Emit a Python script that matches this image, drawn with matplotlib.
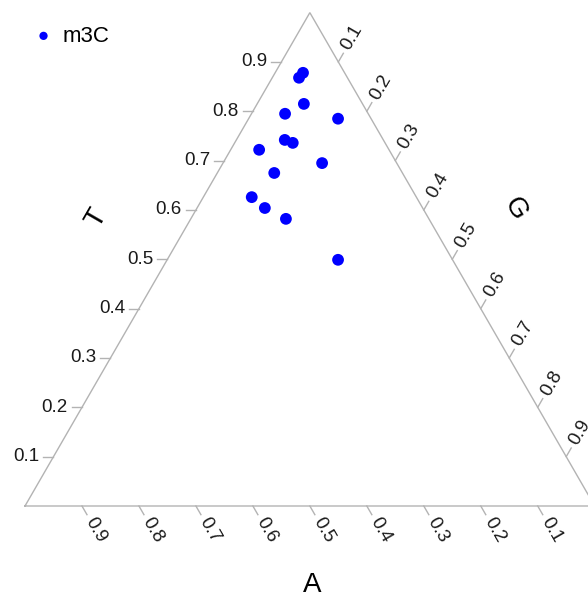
import numpy as np
import matplotlib
matplotlib.use("Agg")
import matplotlib.pyplot as plt

plt.rcParams['font.family'] = ['Liberation Sans', 'DejaVu Sans']

# m3C composition (fractions of A, G, T)
a_frac = [0.073, 0.085, 0.103, 0.058, 0.146, 0.228, 0.173, 0.162, 0.131, 0.225, 0.289, 0.277, 0.251, 0.201]
g_frac = [0.049, 0.047, 0.082, 0.157, 0.059, 0.050, 0.085, 0.102, 0.174, 0.100, 0.085, 0.119, 0.167, 0.300]
t_frac = [0.878, 0.868, 0.815, 0.785, 0.795, 0.722, 0.742, 0.736, 0.695, 0.675, 0.626, 0.604, 0.582, 0.499]
series_name = "m3C"
tick_values = [0.1, 0.2, 0.3, 0.4, 0.5, 0.6, 0.7, 0.8, 0.9]
tick_labels = ["0.1", "0.2", "0.3", "0.4", "0.5", "0.6", "0.7", "0.8", "0.9"]

H = np.sqrt(3) / 2
SIDE_PX = 569.7
PX = 1 / SIDE_PX
EDGE = "#b3b3b3"
TXT = "#1a1a1a"


def to_xy(a, g, t):
    a, g, t = np.asarray(a), np.asarray(g), np.asarray(t)
    s = a + g + t
    return (g + t / 2) / s, (t * H) / s


fig = plt.figure(figsize=(5.88, 6.00), dpi=100)
ax = fig.add_axes([0, 0, 1, 1])
x0 = -25 * PX
y0 = -94 * PX
ax.set_xlim(x0, x0 + 588 * PX)
ax.set_ylim(y0, y0 + 600 * PX)
ax.set_aspect("equal")
ax.axis("off")

# triangle frame
ax.plot([0, 1, 0.5, 0], [0, 0, H, 0], color=EDGE, lw=1.0, solid_joinstyle="miter")

tick_len = 10 * PX
lab_off = 15 * PX
fs = 13.5

for v, lab in zip(tick_values, tick_labels):
    # T axis (left edge), horizontal ticks
    px, py = v / 2, v * H
    ax.plot([px, px - tick_len], [py, py], color=EDGE, lw=1.0)
    ax.text(px - tick_len - 4 * PX, py, lab, ha="right", va="center", fontsize=fs, color=TXT)

    # A axis (bottom edge), ticks down-right
    d = np.array([0.5, -H])
    px, py = 1 - v, 0.0
    ax.plot([px, px + d[0] * tick_len], [py, py + d[1] * tick_len], color=EDGE, lw=1.0)
    ax.text(px + d[0] * lab_off, py + d[1] * lab_off, lab, rotation=-60, rotation_mode="anchor",
            ha="left", va="center", fontsize=fs, color=TXT)

    # G axis (right edge), ticks up-right
    d = np.array([0.5, H])
    px, py = (1 + v) / 2, (1 - v) * H
    ax.plot([px, px + d[0] * tick_len], [py, py + d[1] * tick_len], color=EDGE, lw=1.0)
    ax.text(px + d[0] * lab_off, py + d[1] * lab_off, lab, rotation=60, rotation_mode="anchor",
            ha="left", va="center", fontsize=fs, color=TXT)

# axis titles
ax.text(72 * PX, 288 * PX, "T", rotation=60, ha="center", va="center", fontsize=20, color="black")
ax.text(490 * PX, 297 * PX, "G", rotation=-60, ha="center", va="center", fontsize=20, color="black")
ax.text(287 * PX, -79 * PX, "A", ha="center", va="center", fontsize=20, color="black")

xs, ys = to_xy(a_frac, g_frac, t_frac)
ax.scatter(xs, ys, s=72, color="blue", edgecolors="none", label=series_name, zorder=3)

ax.legend(loc="upper left", bbox_to_anchor=(0.04, 0.972), frameon=False, fontsize=16,
          markerscale=0.7, handletextpad=0.35, borderaxespad=0, handlelength=1.0)

fig.savefig("out.png", dpi=100)
